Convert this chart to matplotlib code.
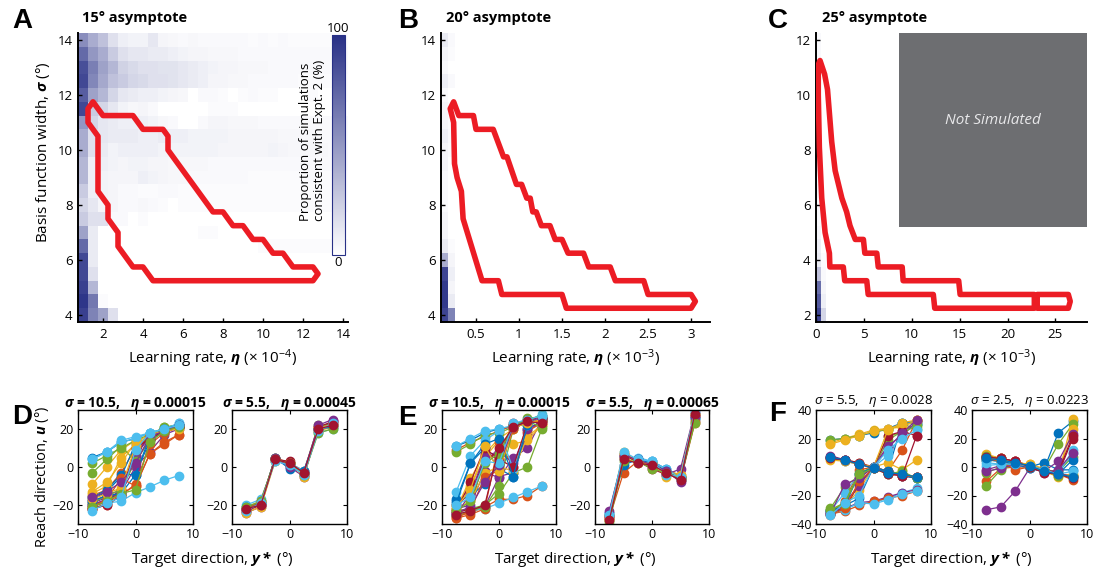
import numpy as np
import matplotlib
matplotlib.use('Agg')
import matplotlib.pyplot as plt
from matplotlib.colors import LinearSegmentedColormap
from matplotlib.patches import Polygon, Rectangle

plt.rcParams['font.family'] = ['Open Sans', 'DejaVu Sans']
plt.rcParams['mathtext.fontset'] = 'custom'
plt.rcParams['mathtext.rm'] = 'Open Sans'
plt.rcParams['mathtext.it'] = 'Open Sans:italic'
plt.rcParams['mathtext.bf'] = 'Open Sans:bold'
plt.rcParams['mathtext.bfit'] = 'Open Sans:italic:bold'

# ---- heatmap grids (cell edges) ----
eta_edges_A = np.arange(0.75, 14.26, 0.5)
sigma_edges_A = np.arange(3.75, 14.26, 0.5)

# panel A proportions (%), rows from sigma 14 (top) down to sigma 4
heat_A = [
    [55, 40, 30, 15, 8, 6, 6, 12, 5, 4, 3, 4, 3, 3, 3, 3, 3, 2, 3, 2, 3, 2, 2, 2, 2, 2, 2],
    [72, 50, 40, 25, 15, 12, 12, 10, 10, 8, 6, 5, 5, 4, 4, 4, 3, 3, 3, 3, 3, 3, 3, 3, 3, 3, 3],
    [85, 62, 45, 35, 22, 18, 15, 15, 14, 14, 12, 10, 8, 6, 5, 5, 4, 4, 4, 3, 3, 3, 3, 3, 3, 3, 3],
    [88, 58, 42, 30, 25, 20, 18, 15, 15, 14, 12, 10, 8, 5, 5, 4, 4, 3, 3, 3, 3, 3, 2, 2, 2, 2, 2],
    [78, 45, 35, 20, 12, 10, 8, 8, 6, 5, 4, 0, 3, 3, 2, 0, 2, 3, 2, 2, 0, 0, 0, 2, 0, 0, 2],
    [88, 25, 20, 12, 6, 4, 5, 3, 0, 0, 0, 0, 0, 2, 2, 2, 0, 0, 0, 0, 0, 0, 0, 0, 0, 0, 0],
    [50, 20, 12, 10, 8, 8, 8, 6, 4, 3, 0, 0, 3, 5, 5, 4, 4, 4, 3, 3, 3, 3, 3, 3, 3, 3, 3],
    [40, 15, 12, 10, 10, 10, 8, 8, 10, 8, 8, 6, 6, 6, 6, 5, 5, 5, 5, 5, 4, 4, 4, 4, 3, 3, 3],
    [40, 15, 10, 6, 8, 8, 8, 8, 6, 6, 6, 6, 6, 6, 5, 5, 5, 5, 5, 6, 5, 4, 4, 4, 4, 3, 3],
    [35, 8, 8, 6, 5, 6, 6, 5, 5, 4, 4, 4, 4, 3, 3, 3, 3, 3, 3, 3, 3, 3, 3, 3, 3, 3, 3],
    [35, 8, 6, 5, 5, 5, 8, 6, 5, 4, 4, 3, 3, 3, 3, 3, 3, 2, 2, 2, 2, 2, 2, 3, 2, 2, 2],
    [25, 8, 6, 5, 3, 3, 2, 2, 3, 3, 2, 2, 2, 2, 2, 2, 2, 2, 2, 2, 2, 2, 2, 2, 2, 2, 2],
    [20, 12, 5, 5, 3, 3, 4, 3, 2, 0, 2, 2, 2, 2, 2, 2, 2, 2, 2, 2, 2, 2, 2, 2, 2, 2, 2],
    [25, 15, 15, 3, 3, 0, 2, 0, 0, 0, 0, 0, 0, 0, 0, 0, 0, 0, 0, 0, 0, 0, 0, 0, 0, 0, 0],
    [45, 10, 0, 0, 0, 0, 0, 0, 0, 0, 0, 0, 2, 2, 0, 0, 0, 0, 0, 0, 0, 0, 0, 0, 0, 0, 0],
    [72, 10, 0, 0, 0, 0, 0, 0, 0, 0, 0, 0, 0, 0, 0, 0, 0, 0, 2, 2, 2, 2, 2, 2, 2, 2, 2],
    [88, 10, 0, 0, 0, 0, 0, 0, 0, 0, 0, 0, 0, 0, 0, 0, 0, 0, 0, 0, 0, 0, 0, 0, 0, 0, 0],
    [88, 15, 0, 0, 0, 0, 0, 0, 0, 0, 0, 0, 0, 0, 0, 0, 0, 0, 0, 0, 0, 0, 0, 0, 0, 0, 0],
    [92, 35, 0, 0, 0, 0, 0, 0, 0, 0, 0, 0, 0, 0, 0, 0, 0, 0, 0, 0, 0, 0, 0, 0, 0, 0, 0],
    [97, 65, 2, 0, 0, 0, 0, 0, 0, 0, 0, 0, 0, 0, 0, 0, 0, 0, 0, 0, 0, 0, 0, 0, 0, 0, 0],
    [92, 60, 45, 15, 0, 0, 0, 0, 0, 0, 0, 0, 0, 0, 0, 0, 0, 0, 0, 0, 0, 0, 0, 0, 0, 0, 0],
]

# panel B: only the two leftmost eta columns are non-zero
eta_edges_B = [0.09, 0.17, 0.25]
heat_B = [
    [10, 3], [5, 2], [3, 0], [8, 3], [3, 0], [5, 2], [5, 2], [8, 3], [5, 2], [5, 0], [3, 0],
    [3, 0], [3, 0], [5, 0], [5, 0], [10, 2], [40, 5], [90, 8], [95, 5], [95, 10], [90, 60],
]

# panel C: leftmost eta columns, sigma 12 (top) down to 2
eta_edges_C = [0.0, 0.5, 1.0]
sigma_edges_C = np.arange(1.75, 12.26, 0.5)
heat_C = [
    [3, 0], [3, 0], [3, 0], [3, 0], [3, 0], [3, 0], [3, 0], [3, 0], [3, 0], [5, 0], [3, 0],
    [5, 0], [3, 0], [3, 0], [5, 0], [8, 0], [10, 2], [30, 3], [70, 5], [80, 8], [90, 20],
]
not_sim_eta, not_sim_sigma = 8.7, 5.2

# red contours (consistent region), (eta, sigma)
contour_A_eta = [1.5, 2.0, 3.5, 4.0, 5.0, 5.25, 5.25, 7.5, 8.0, 8.5, 9.0, 9.5, 10.0, 10.5, 11.0, 11.5,
                 12.5, 12.75, 12.5, 4.5, 4.0, 3.5, 2.75, 2.75, 2.25, 2.25, 1.75, 1.75, 1.25, 1.25]
contour_A_sig = [11.75, 11.25, 11.25, 10.75, 10.75, 10.5, 10.0, 7.75, 7.75, 7.25, 7.25, 6.75, 6.75, 6.25,
                 6.25, 5.75, 5.75, 5.5, 5.25, 5.25, 5.75, 5.75, 6.5, 7.0, 7.5, 8.0, 8.5, 10.5, 11.0, 11.5]
contour_B_eta = [0.24, 0.3, 0.47, 0.5, 0.7, 0.82, 0.86, 0.97, 1.03, 1.09, 1.13, 1.16, 1.2, 1.26, 1.36,
                 1.42, 1.5, 1.57, 1.75, 1.81, 2.06, 2.12, 2.45, 2.5, 3.0, 3.05, 3.0, 1.55, 1.5, 0.8,
                 0.76, 0.57, 0.35, 0.33, 0.28, 0.25, 0.24, 0.2]
contour_B_sig = [11.75, 11.25, 11.25, 10.75, 10.75, 9.75, 9.75, 8.75, 8.75, 8.25, 8.25, 7.75, 7.75, 7.25,
                 7.25, 6.75, 6.75, 6.25, 6.25, 5.75, 5.75, 5.25, 5.25, 4.75, 4.75, 4.5, 4.25, 4.25,
                 4.75, 4.75, 5.25, 5.25, 7.5, 8.5, 9.0, 9.5, 11.0, 11.5]
contour_C_eta = [0.42, 0.9, 1.2, 1.64, 2.0, 2.35, 2.7, 3.2, 3.55, 4.1, 4.95, 5.1, 6.35, 6.5, 9.0, 9.1,
                 14.9, 15.05, 22.8, 22.8, 12.4, 12.25, 5.45, 5.3, 3.0, 2.85, 1.45, 1.4, 0.95, 0.6,
                 0.35, 0.24, 0.24]
contour_C_sig = [11.25, 10.75, 10.2, 8.3, 7.25, 6.75, 6.25, 5.75, 5.25, 4.75, 4.75, 4.25, 4.25, 3.75,
                 3.75, 3.25, 3.25, 2.75, 2.75, 2.25, 2.25, 2.75, 2.75, 3.25, 3.25, 3.75, 3.75, 4.25,
                 5.0, 6.25, 8.1, 10.0, 11.1]
contour_C2_eta = [23.1, 26.35, 26.55, 26.35, 23.1]
contour_C2_sig = [2.75, 2.75, 2.5, 2.25, 2.25]

# ---- simulated reach directions ----
target_dirs = [-7.5, -5, -2.5, 0, 2.5, 5, 7.5]

D_left = [
    [5, 8, 13, 15, 18, 20, 22], [-15, -12, -3, 10, 16, 19, 21], [-9, 0, 9, 14, 17, 20, 21],
    [-18, -15, -12, 8, 15, 18, 21], [2, 6, 10, 14, 17, 21, 22], [4, 8, 13, 15, 18, 20, 23],
    [-20, -17, -14, 10, 17, 19, 21], [-17, -13, -5, 12, 16, 19, 22], [-22, -19, -14, -10, 7, 12, 17],
    [-14, -10, 5, 12, 16, 19, 21], [-19, -16, -13, 0, 8, 17, 20], [-3, 4, 11, 3, 15, 18, 21],
    [-20, -19, -18, -13.5, -10.5, -7, -4.5], [-21, -18, -12, 6, 17, 20, 22], [-16, -12, -4, -4, 14, 19, 22],
    [-22, -20, -15, -9, 12, 18, 21], [-13, -8, 2, 13, 17, 20, 22], [-20, -17, -13, 6, 16, 19, 21],
    [-19, -15, -12, 3, 14, 21, 22], [4, 8, 14, 16, 18, 20, 23], [-22, -20, -15, 10, 15, 19, 21],
    [-18, -15, -14, -4, 16, 20, 22], [-21, -17, -6, -10, 7, 13, 17], [-17, -14, -11, 11, 17, 19, 20],
    [-16, -13, -8, 2, 16, 19, 22], [-21, -18, -14, -12, 13, 19, 21], [-23, -19, -16, 9, 18, 20, 22],
]
D_right = [
    [-22, -19, 4, 1, -3, 20, 22], [-23, -20, 5, 2, -2, 21, 23], [-21, -18, 3, 2, -4, 19, 21],
    [-24, -21, 4, 0, -5, 20, 24], [-22, -19, 5, 1, -3, 22, 22], [-20, -17, 3, 2, -2, 18, 20],
    [-23, -20, 4, 3, -4, 21, 24], [-21, -19, 5, -1, -2, 20, 21], [-22, -18, 4, 1, -3, 19, 23],
    [-24, -21, 3, 2, -5, 21, 22], [-22, -20, 5, 0, -3, 22, 25], [-21, -18, 4, 2, -4, 18, 20],
    [-23, -19, 3, 1, -4, 19, 23], [-22, -20, 4, 2, -3, 20, 22],
]
E_left = [
    [11, 14, 18, 20, 21, 23, 27], [9, 13, 16, 19, 22, 24, 26], [-22, -6, 7, 15, 20, 24, 25],
    [-22, -20, -2, -6, 5, 10, 25], [8, 12, 17, 18, 21, 26, 26], [11, 15, 19, 20, 22, 24, 28],
    [-20, -14, 4, 8, 22, 25, 26], [-18, -15, -9, 3, 22, 23, 26], [-26, -24, -21, -17, -17, -15, -10],
    [-20, -10, 5, 14, 12, 14, 22], [-24, -22, -21, -5, -3, 18, 25], [-23, -22, -20, -14, -3, 0, 20],
    [-25, -23, -22, -19, -16, -13, -10], [-24, -22, 7, 4, 23, 24, 26], [-17, 2, 10, -1, -5, 20, 24],
    [-27, -25, -22, 13, 0, 19, 23], [-22, -18, -3, 0, -2, 16, 22], [-25, -14, 6, 8, 2, 20, 24],
    [-26, -23, -21, -10, 20, 24, 21], [-13, 6, 14, 19, -1, 22, 27], [-23, -8, 10, 4, 0, 23, 25],
    [-19, 2, 12, 15, -5, 22, 25], [-27, -23, -5, -2, 20, 24, 24], [-21, -12, 11, -2, 21, 23, 25],
    [-24, -21, -8, 1, 21, 24, 26], [-23, -18, 2, 7, 22, 25, 27], [-20, -16, 3, 2, 23, 25, 27],
    [-25, -23, -20, 10, 21, 24, 23],
]
E_right = [
    [-24, 6, 4, 3, -1, -5, 26], [-27, -3, 3, 1, -3, -7, 23], [-25, 8, 3, 2, -2, -4, 27],
    [-26, 5, 4, 0, -4, -1, 29], [-28, 7, 2, 2, -3, -5, 28], [-24, 4, 5, 3, -1, -6, 25],
    [-27, 6, 3, -1, -4, -5, 27], [-25, 1, 4, 2, -2, -7, 26], [-26, 7, 3, 1, -3, -6, 24],
    [-28, 5, 2, 2, -5, -4, 28], [-23, 6, 4, 1, -2, -8, 27], [-29, 3, 3, -1, -3, -6, 23],
    [-25, 8, 4, 3, -4, -5, 29], [-28, 4, 2, 1, -3, -7, 28],
]
F_left = [
    [19, 20, 22, 24, 27, 31, 30], [7, 5, 3, 0, -3, -5, -7], [17, 20, 23, 26, 27, 28, 33],
    [8, 5, 2, 0, -4, -6, -8], [19, 20, 22, 25, 26, 30, 27], [-32, -29, -26, -25, -22, -18, -15],
    [6, 5, 3, -1, -4, -5, -7], [-30, -27, -22, 0, -3, 31, 32], [-33, -24, -2, 0, -3, 12, 33],
    [-31, -28, -16, 0, 3, -2, 5], [-31, -29, -25, -24, -21, -18, -16], [-29, -14, -6, -1, 19, 25, 30],
    [-31, -18, -5, 0, 8, 23, 30], [-33, -29, -12, 0, -5, -6, -7], [6, 4, 2, 0, -3, -5, -8],
    [-33, -31, -27, -24, -22, -20, -17], [16, 19, 22, 25, 27, 29, 32], [-32, -25, -13, 0, 15, 22, 32],
    [-30, -25, -4, 0, 22, 24, 29], [-33, -30, -25, -26, -23, -19, -17], [7, 5, 2, 0, 22, 25, 22],
    [-31, -27, -5, 0, -4, -6, -8], [-34, -29, -10, -1, -4, -6, -7], [5, 4, 2, 0, 26, 31, 33],
    [-33, -12, -8, 0, 13, 24, 33], [-30, -26, -5, -1, -5, -3, -8], [-34, -25, -20, 0, 12, 20, 26],
    [6, 5, 2, -1, -5, -6, 22], [7, 5, 2, -1, -4, -5, -7],
]
F_right = [
    [8, 6, 3, 0, -2, 24, 32], [-10, -1, 0, 0, -3, -5, -6], [5, 4, 3, 2, -1, -6, 34],
    [-30, -28, -17, -1, -3, -5, -6], [-13, -2, 2, 0, -2, 16, 30], [1, 2, 2, 0, -3, -5, 10],
    [6, 5, 4, 0, -3, -5, 20], [7, 5, 3, 0, 3, -2, -2], [7, 6, 4, 1, -3, -5, -9],
    [6, 5, 3, 0, -2, -4, 27], [-2, 1, 3, 0, -3, 4, 23], [-4, 0, 3, 1, -2, -3, 7],
    [5, 4, 2, -1, -3, -5, 12], [8, 6, 4, 1, -2, -4, 22], [5, 4, 2, -1, -3, -5, 5],
    [6, 4, -2, 0, -2, -5, -7], [9, 6, 3, 2, -3, -7, -5], [-3, -1, 2, 0, -4, -2, 10],
    [8, 5, 3, 0, -3, -6, -6], [3, 2, 2, 1, -2, -5, -3], [7, 6, 4, 0, -4, -5, -8],
    [6, 5, 3, 1, -3, -5, -7],
]

matlab_colors = ['#0072BD', '#D95319', '#EDB120', '#7E2F8E', '#77AC30', '#4DBEEE', '#A2142F']
red = '#ec1c24'
cmap = LinearSegmentedColormap.from_list('wb', ['#ffffff', '#283086'])

W, H = 1097, 574
fig = plt.figure(figsize=(W / 100, H / 100), dpi=100)


def add_ax(l, t, r, b):
    return fig.add_axes([l / W, 1 - b / H, (r - l) / W, (b - t) / H])


def style_top(ax):
    ax.spines[['top', 'right']].set_visible(False)
    for s in ['left', 'bottom']:
        ax.spines[s].set_linewidth(1.4)
    ax.tick_params(direction='in', length=3, width=1, labelsize=9.5, pad=4)


def draw_contour(ax, xs, ys):
    ax.add_patch(Polygon(np.column_stack([xs, ys]), closed=True, fill=False,
                         edgecolor=red, lw=4.0, joinstyle='round', zorder=5))


# ---------- A ----------
axA = add_ax(78, 33, 348, 322)
meshA = axA.pcolormesh(eta_edges_A, sigma_edges_A, np.flipud(np.array(heat_A)),
                       cmap=cmap, vmin=0, vmax=100)
draw_contour(axA, contour_A_eta, contour_A_sig)
axA.set_xlim(0.75, 14.25)
axA.set_ylim(3.75, 14.25)
axA.set_xticks(range(2, 15, 2))
axA.set_yticks(range(4, 15, 2))
style_top(axA)
axA.set_xlabel(r'Learning rate, $\mathbfit{\eta}$ (× 10$^{-4}$)', fontsize=11, labelpad=5)

cax = add_ax(332, 35, 345, 255)
cb = fig.colorbar(meshA, cax=cax)
cb.set_ticks([])
cb.outline.set_edgecolor('#283086')
cb.outline.set_linewidth(0.8)
fig.text(338 / W, 1 - 28 / H, '100', ha='center', va='center', fontsize=9.5)
fig.text(338 / W, 1 - 263 / H, '0', ha='center', va='center', fontsize=9.5)
fig.text(313 / W, 1 - 221 / H, 'Proportion of simulations\nconsistent with Expt. 2 (%)',
         rotation=90, ha='center', va='bottom', multialignment='left', fontsize=9.5,
         linespacing=1.1)
fig.text(43 / W, 1 - 152 / H, r'Basis function width, $\mathbfit{\sigma}$ (°)', rotation=90,
         ha='center', va='center', fontsize=11)

# ---------- B ----------
axB = add_ax(441, 33, 710, 322)
axB.pcolormesh(eta_edges_B, sigma_edges_A, np.flipud(np.array(heat_B)), cmap=cmap, vmin=0, vmax=100)
draw_contour(axB, contour_B_eta, contour_B_sig)
axB.set_xlim(0.093, 3.22)
axB.set_ylim(3.75, 14.25)
axB.set_xticks([0.5, 1, 1.5, 2, 2.5, 3])
axB.set_xticklabels(['0.5', '1', '1.5', '2', '2.5', '3'])
axB.set_yticks(range(4, 15, 2))
style_top(axB)
axB.set_xlabel(r'Learning rate, $\mathbfit{\eta}$ (× 10$^{-3}$)', fontsize=11, labelpad=5)

# ---------- C ----------
axC = add_ax(816, 33, 1087, 322)
axC.pcolormesh(eta_edges_C, sigma_edges_C, np.flipud(np.array(heat_C)), cmap=cmap, vmin=0, vmax=100)
draw_contour(axC, contour_C_eta, contour_C_sig)
draw_contour(axC, contour_C2_eta, contour_C2_sig)
axC.set_xlim(0, 28.3)
axC.set_ylim(1.75, 12.25)
axC.add_patch(Rectangle((not_sim_eta, not_sim_sigma), 28.3 - not_sim_eta, 12.25 - not_sim_sigma,
                        facecolor='#6d6e71', edgecolor='none', zorder=6))
axC.text((not_sim_eta + 28.3) / 2, (not_sim_sigma + 12.25) / 2 + 0.35, 'Not Simulated',
         ha='center', va='center', color='#e8e8ea', fontsize=11, style='italic', zorder=7)
axC.set_xticks(range(0, 26, 5))
axC.set_yticks(range(2, 13, 2))
style_top(axC)
axC.set_xlabel(r'Learning rate, $\mathbfit{\eta}$ (× 10$^{-3}$)', fontsize=11, labelpad=5)

# top titles and letters
for x0, title in [(82, '15° asymptote'), (446, '20° asymptote'), (822, '25° asymptote')]:
    fig.text(x0 / W, 1 - 18 / H, title, ha='left', va='center', fontsize=10.5, fontweight='bold')
for x0, y0, letter in [(12, 21, 'A'), (398, 21, 'B'), (768, 21, 'C'),
                       (12, 417, 'D'), (398, 418, 'E'), (769, 414, 'F')]:
    fig.text(x0 / W, 1 - y0 / H, letter, ha='left', va='center', fontsize=20,
             fontweight='bold', family='Liberation Sans')


# ---------- bottom panels ----------
def draw_runs(l, r, curves, ylim, yticks, title, bold=True):
    ax = add_ax(l, 410, r, 524)
    for i, c in enumerate(curves):
        col = matlab_colors[i % len(matlab_colors)]
        ax.plot(target_dirs, c, '-o', color=col, lw=0.9, ms=6, mec=col)
    ax.set_xlim(-10, 10)
    ax.set_ylim(*ylim)
    ax.set_xticks([-10, 0, 10])
    ax.set_yticks(yticks)
    ax.tick_params(direction='in', top=True, right=True, length=3, width=0.8, labelsize=9, pad=3)
    for s in ax.spines.values():
        s.set_linewidth(1.0)
    ax.set_title(title, fontsize=10 if bold else 9.5, fontweight='bold' if bold else 'normal',
                 pad=2 if bold else 4)
    return ax


def run_title(sig, eta, bold=True):
    if bold:
        return r'$\mathbfit{\sigma}$ = %s,   $\mathbfit{\eta}$ = %s' % (sig, eta)
    return r'$\mathit{\sigma}$ = %s,   $\mathit{\eta}$ = %s' % (sig, eta)


draw_runs(78, 193, D_left, (-30, 30), [-20, 0, 20], run_title('10.5', '0.00015'))
draw_runs(232, 347, D_right, (-30, 30), [-20, 0, 20], run_title('5.5', '0.00045'))
draw_runs(442, 556, E_left, (-30, 30), [-20, 0, 20], run_title('10.5', '0.00015'))
draw_runs(595, 709, E_right, (-30, 30), [-20, 0, 20], run_title('5.5', '0.00065'))
draw_runs(816, 931, F_left, (-40, 40), [-40, -20, 0, 20, 40], run_title('5.5', '0.0028', False), False)
draw_runs(972, 1087, F_right, (-40, 40), [-40, -20, 0, 20, 40], run_title('2.5', '0.0223', False), False)

fig.text(42 / W, 1 - 477 / H, r'Reach direction, $\mathbfit{u}$ (°)', rotation=90,
         ha='center', va='center', fontsize=10.5)
for xc in [212, 575, 951]:
    fig.text(xc / W, 1 - 559 / H, r'Target direction, $\mathbfit{y*}$ (°)',
             ha='center', va='center', fontsize=11)

fig.savefig('out.png', dpi=100)
